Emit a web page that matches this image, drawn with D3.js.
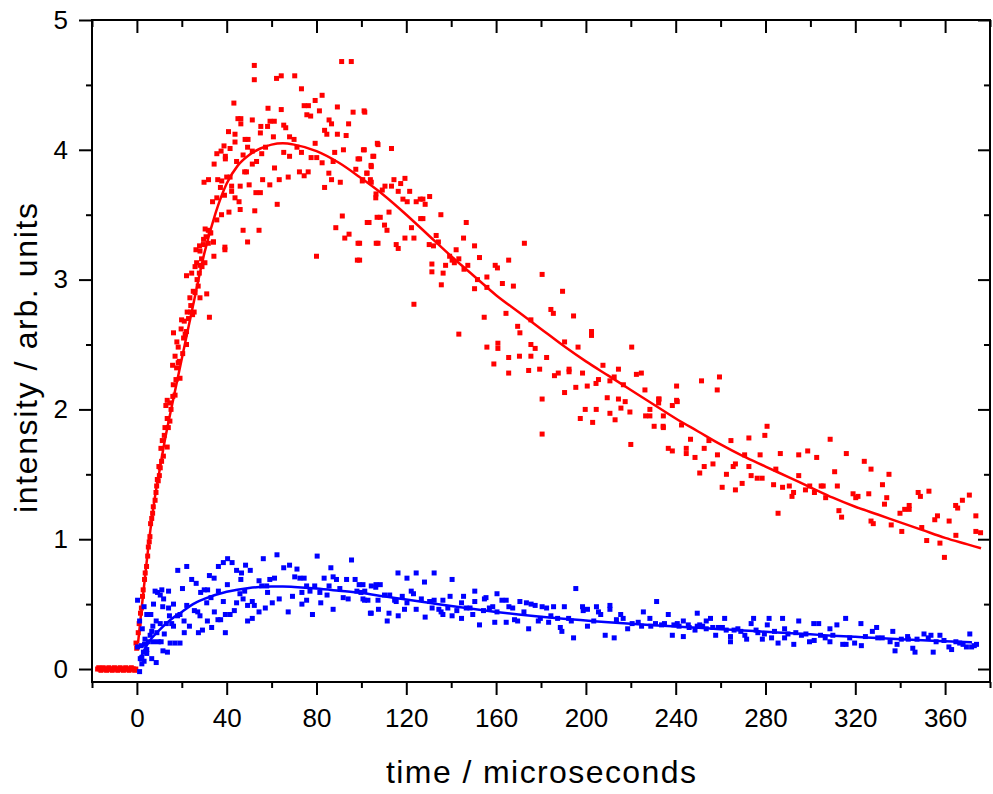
<!DOCTYPE html>
<html>
<head>
<meta charset="utf-8">
<script src="https://cdn.jsdelivr.net/npm/d3@7"></script>
<style>
  body { margin: 0; background: #fff; }
  svg { display: block; font-family: "Liberation Sans", Arial, sans-serif; }
</style>
</head>
<body>
<svg id="chart" width="993" height="794"></svg>
<script>
// values: [time (us), intensity]
const redPreTrigger = [[-17.5,0.0],[-17,0.01],[-16.5,0.0],[-16,-0.01],[-15.5,0.0],[-15,0.01],[-14.5,0.0],[-14,0.0],[-13.5,-0.01],[-13,0.0],[-12.5,0.01],[-12,0.0],[-11.5,0.0],[-11,-0.01],[-10.5,0.0],[-10,0.01],[-9.5,0.0],[-9,0.0],[-8.5,-0.01],[-8,0.0],[-7.5,0.01],[-7,0.0],[-6.5,0.0],[-6,-0.01],[-5.5,0.0],[-5,0.01],[-4.5,0.0],[-4,0.0],[-3.5,-0.01],[-3,0.0],[-2.5,0.01],[-2,0.0],[-1.5,0.0],[-1,-0.01],[-0.5,0.0]];

const redRise = [[-0.4,0.2],[-0.1,0.16],[0.6,0.28],[1.0,0.35],[1.6,0.43],[2.0,0.47],[2.5,0.56],[2.8,0.61],[3.4,0.69],[3.7,0.74],[4.3,0.79],[4.8,0.87],[5.1,0.94],[5.5,0.98],[5.8,1.02],[6.1,1.12],[6.6,1.16],[7.0,1.2],[7.3,1.25],[8.1,1.3],[8.5,1.36],[8.8,1.41],[9.1,1.46],[9.5,1.45],[10.0,1.49],[9.8,1.56],[10.4,1.55],[11,1.6],[11.8,1.64],[10.7,1.7],[13.5,1.71],[11.3,1.76],[12.2,1.8],[12.5,1.86],[14.0,1.86],[14.7,1.91],[13.5,1.93],[15.2,2.0],[13.5,2.07],[12.9,2.03],[14.7,2.05],[16,2.1],[16.2,2.19],[17.4,2.23],[17.7,2.32],[19.2,2.24],[17.0,2.11],[18.4,2.36],[15.9,2.34],[17.0,2.41],[18.9,2.37],[18.4,2.48],[20.4,2.43],[22.1,2.5],[16.3,2.59],[17.8,2.52],[19.7,2.62],[20.8,2.55],[21.5,2.58],[22.1,2.6],[21.1,2.68],[19.9,2.69],[23,2.7],[22.4,2.75],[23.9,2.75],[24,2.8],[25.5,2.75],[24.8,2.73],[23.6,2.86],[25.9,2.9],[27.3,2.95],[25.1,2.91],[26.8,3.0],[22.1,3.03],[24.4,3.05],[27.8,3.05],[29,3.1],[28.1,2.86],[31.1,2.89],[32.3,2.71],[25.9,3.1],[26.6,3.13],[28.1,3.11],[30.3,3.13],[28.8,3.16],[26.3,3.23],[28.1,3.22],[29.6,3.27],[31.8,3.28],[30.8,3.33],[34.1,3.29],[32.9,3.36],[31.8,3.38],[34.3,3.18],[39.2,3.23]];

const redPeak = [[52.3,4.65],[52.3,4.54],[62.2,4.55],[64.3,4.57],[70.3,4.57],[73.3,4.47],[82.5,4.42],[79.4,4.38],[91.2,4.68],[95.5,4.68],[89.3,4.33],[101.2,4.3],[96.3,4.29],[107.1,4.05],[43.2,4.36],[45,4.24],[46.3,4.24],[46.3,4.2],[51.4,4.23],[58.4,4.32],[64.3,4.31],[74.5,4.34],[76.4,4.34],[77.4,4.26],[75.7,4.27],[81.3,4.3],[85.6,4.23],[86.7,4.2],[94.3,4.2],[59.3,4.22],[61.2,4.22],[58.2,4.18],[55.2,4.18],[65.4,4.19],[66.3,4.17],[40.8,4.14],[43.7,4.12],[55,4.13],[60.8,4.1],[68,4.1],[70,4.08],[83.6,4.15],[84.6,4.12],[89.3,4.12],[93.2,4.11],[79.4,4.05],[43.7,4.06],[38.8,4.03],[37.5,3.99],[35.6,3.97],[41.5,4.01],[48.2,4.08],[49.5,4.08],[49.3,4.02],[51.4,3.99],[47.3,3.96],[55.6,3.97],[57.3,4.02],[65.4,3.98],[68,3.95],[71.3,4.02],[73.3,3.98],[77.6,3.94],[80.1,3.94],[88.1,3.98],[92,4.0],[100.9,4.0],[105.1,3.95],[34.4,3.89],[39.4,3.95],[39.4,3.93],[44.4,3.91],[51.4,3.89],[53.3,3.91],[61.3,3.86],[82.5,3.9],[87.4,3.91],[98.5,3.93],[104.3,3.88],[48.8,3.83],[48,3.83],[72.4,3.83],[76.3,3.83],[74.5,3.8],[85.5,3.82],[97.5,3.85],[102.4,3.82],[86.7,3.77],[90.6,3.75],[100.6,3.77],[104,3.77],[56,3.77],[59.2,3.73],[63.4,3.77],[67.4,3.79],[29.9,3.75],[31.9,3.77],[36,3.77],[37.8,3.76],[40,3.79],[41.5,3.79],[42.2,3.72],[42.2,3.68],[46,3.72],[50,3.73],[37.2,3.71],[53,3.67],[55,3.67],[83.6,3.71],[106.5,3.66],[43.7,3.63],[35.6,3.63],[33.7,3.6],[45.5,3.6],[39,3.65],[41,3.52],[37.7,3.5],[46,3.54],[52.5,3.53],[62.5,3.58],[30.4,3.39],[32.6,3.36],[29.7,3.31],[27.9,3.26],[34.1,3.29],[35.6,3.46],[47.3,3.38],[49.3,3.29],[54.4,3.38],[39.2,3.25],[91.5,3.49],[88.6,3.4],[92.6,3.32],[94.5,3.35],[98.5,3.28],[102.6,3.44],[106.6,3.28],[107,3.48],[80,3.18],[98.2,3.15]];

const redDecay = [[101.5,4.29],[101.3,4.0],[107.4,4.04],[113.4,4.01],[99.2,3.93],[105.5,3.95],[104.4,3.87],[102.5,3.82],[100.4,3.76],[104.4,3.75],[106.4,3.63],[109.3,3.69],[110.5,3.72],[113.4,3.72],[114.5,3.77],[117.5,3.74],[119.4,3.78],[116.4,3.68],[118.5,3.62],[120.4,3.6],[121.5,3.68],[124.4,3.6],[126.2,3.62],[127.4,3.62],[128.4,3.58],[130.4,3.64],[103.4,3.44],[108.4,3.48],[112.3,3.52],[110.3,3.42],[111.4,3.38],[99.2,3.28],[99.2,3.15],[107.4,3.28],[115.5,3.27],[116.4,3.24],[119.4,3.32],[123.4,3.32],[122.3,3.4],[126.4,3.47],[127.4,3.47],[135.4,3.5],[133.3,3.34],[134.3,3.29],[130.2,3.27],[132.1,3.26],[123.4,2.81],[131.4,3.12],[131.4,3.06],[136.4,3.05],[135.6,2.96],[137.5,3.11],[139.3,3.18],[140.4,3.15],[141.4,3.13],[142.2,3.23],[143.4,3.16],[145.5,3.32],[146.7,3.44],[147.4,3.11],[145.7,3.08],[150.4,3.26],[152.6,3.17],[151.7,3.0],[155.9,3.02],[150.4,2.93],[155.9,2.94],[143.4,2.58],[154.7,2.71],[159.6,3.11],[160.6,3.09],[162.8,2.97],[165.6,3.15],[167.7,2.95],[172.6,3.28],[164.4,2.74],[169.6,2.64],[170.6,2.59],[175.5,2.69],[155.9,2.48],[160.8,2.51],[160.8,2.47],[159,2.35],[165.6,2.4],[165.6,2.28],[170.4,2.41],[175.5,2.5],[175.5,2.41],[177.4,2.47],[174.5,2.3],[179.4,2.31],[180.5,3.04],[180.5,2.08],[180.5,1.81],[182.5,2.4],[184.4,2.77],[185.5,2.74],[186,2.26],[187.7,2.28],[189.6,2.91],[190.5,2.13],[190.5,2.52],[192.5,2.31],[192.5,2.29],[194.5,2.72],[195.5,2.17],[196.5,2.48],[197.5,1.93],[199.7,2.0],[198.5,2.28],[200.6,2.18],[202.5,2.6],[202.5,2.57],[203,1.9],[204.5,2.2],[205.6,2.23],[204.6,2.0],[207.6,2.34],[209.5,2.09],[210.7,1.97],[210.7,2.22],[212.6,2.25],[213,1.92],[214.5,2.31],[214.5,2.08],[215.6,2.01],[217.5,2.06],[219.6,1.98],[220,1.73],[220.4,2.48],[216.7,2.19],[222.5,2.27],[224.7,2.28],[226.3,2.15],[226.6,1.95],[228.5,1.95],[230.4,1.87],[234.4,1.87],[232.4,2.08],[232.4,2.05],[228.5,2.0],[238.5,2.03],[240.4,2.18],[240.4,2.07]];

const redTail = [[232.6,2.08],[234.5,1.95],[234.5,1.86],[236.7,1.7],[238.5,1.68],[240.7,2.06],[242.6,1.88],[244.7,1.7],[244.7,1.66],[246.6,1.77],[248.6,1.63],[251.5,2.22],[250.7,1.51],[252.7,1.7],[252.7,1.56],[254.8,1.76],[256.6,1.58],[258.5,2.15],[259.5,2.25],[258.6,1.65],[260.7,1.4],[262.6,1.5],[264.6,1.76],[265.6,1.56],[266.6,1.58],[266.6,1.38],[269.6,1.43],[270.7,1.65],[272.6,1.78],[272.6,1.56],[273.6,1.49],[276.3,1.47],[278.5,1.47],[277.6,1.65],[279.7,1.8],[280.7,1.87],[283.6,1.42],[284.6,1.54],[285.6,1.2],[286.6,1.66],[287.6,1.4],[290.6,1.41],[291.8,1.33],[292.5,1.36],[294.8,1.49],[294.8,1.65],[297.8,1.38],[299.7,1.41],[298.8,1.68],[301.8,1.36],[302.8,1.63],[304.8,1.41],[305.7,1.41],[306.8,1.32],[308.8,1.77],[310.8,1.52],[312,1.41],[312.7,1.22],[313.9,1.17],[316,1.66],[319,1.35],[320.2,1.32],[321.2,1.33],[324,1.6],[326,1.35],[327,1.54],[327,1.14],[328,1.12],[332.1,1.42],[333,1.27],[334,1.32],[335,1.5],[336,1.11],[339.9,1.2],[342,1.23],[344,1.26],[344,1.23],[340.7,1.06],[348,1.36],[349,1.33],[349.6,1.09],[351.8,0.99],[352.8,1.37],[355.4,1.15],[356.6,1.18],[357.7,0.97],[359.7,0.86],[361.8,1.14],[364.7,1.26],[365.6,1.24],[367.7,1.3],[370.8,1.34],[364.8,1.03],[373.7,1.18],[373.7,1.06],[375.8,1.05]];

const blueRise = [[0.3,0.53],[1.2,-0.02],[1.5,0.08],[2.2,0.04],[3.2,0.06],[1.2,0.37],[2.4,0.31],[3.2,0.48],[4.4,0.42],[6.2,0.42],[6.6,0.29],[7.4,0.5],[7.1,0.33],[8.1,0.6],[9.2,0.59],[11.1,0.61],[14.1,0.6],[10.4,0.57],[11.9,0.54],[11.5,0.48],[14.1,0.47],[16.3,0.5],[14.5,0.41],[18.1,0.41],[10.4,0.35],[13.1,0.35],[8.6,0.37],[5.9,0.26],[8.9,0.28],[12.2,0.27],[3.6,0.23],[5.1,0.21],[7.4,0.21],[9.6,0.21],[10.8,0.21],[11.6,0.14],[13.6,0.13],[4.4,0.12],[6.6,0.08],[8.6,0.05],[2.9,0.13],[2.2,0.09],[1.9,0.18],[3.4,0.19],[0.3,0.17],[4.4,0.15],[14.8,0.2],[17,0.2],[19.2,0.2],[18.2,0.76],[22.2,0.79],[20.3,0.62],[16.3,0.33],[15.5,0.35],[19.2,0.42],[21,0.37],[21.1,0.28],[23.4,0.33],[22.2,0.49],[24.4,0.69],[26.4,0.66],[27.4,0.28],[29.2,0.3],[25.6,0.45],[27.1,0.44],[28.1,0.41],[28.4,0.59],[30,0.61],[31.5,0.61],[32.3,0.72],[34.4,0.7],[31.1,0.51],[33,0.55],[31.4,0.37],[33.3,0.32],[34.5,0.44],[36.1,0.38],[37.3,0.38],[36.3,0.79],[38.5,0.82],[40.4,0.85],[42.4,0.82],[39.4,0.28],[38.5,0.52],[40.3,0.65],[36.3,0.6],[39.4,0.42],[41.5,0.42],[43.4,0.45],[44.4,0.76],[46.6,0.74],[48.4,0.8],[50.5,0.76],[46.3,0.69],[44.4,0.51],[47.3,0.54],[49.3,0.49],[51.4,0.52],[52.3,0.49],[45.9,0.58],[48,0.6],[49.3,0.37],[51.4,0.39],[54.4,0.68],[56.3,0.85],[58.2,0.59],[54.4,0.44],[57.2,0.47],[60.3,0.51],[59.2,0.69],[61.3,0.7],[62.4,0.88],[63.4,0.54],[55.6,0.64],[57.8,0.64],[65.4,0.78],[68,0.8],[71.3,0.77],[67.4,0.44],[69.3,0.56],[70.3,0.71],[72.6,0.7],[74.5,0.7],[73.5,0.59],[75.6,0.64],[77.1,0.6],[73.5,0.5],[75.6,0.53],[78.2,0.42],[80.3,0.87],[79.2,0.64],[81.5,0.59],[83.4,0.7],[81.9,0.51],[84.7,0.57],[85.6,0.64],[87.4,0.71],[88.9,0.69],[86.4,0.78],[87.4,0.46],[90.4,0.62],[93.4,0.69],[95.6,0.84],[91.9,0.55],[94.1,0.54],[97.2,0.69],[99,0.65],[100.7,0.65],[98,0.6],[99.8,0.59],[101.4,0.53],[104,0.43],[106.5,0.65],[107.6,0.46]];

const blueDecay = [[101.5,0.6],[100.7,0.54],[102.9,0.53],[104.4,0.64],[106.4,0.63],[108.4,0.65],[104.4,0.43],[107.4,0.53],[110.3,0.57],[112.6,0.57],[111.5,0.37],[112.3,0.43],[114.8,0.53],[115.5,0.52],[116.3,0.74],[116.4,0.41],[118.2,0.56],[119.2,0.46],[120.3,0.7],[120.3,0.51],[122.2,0.6],[123.2,0.58],[124.4,0.74],[124.4,0.46],[126.7,0.54],[128.1,0.67],[128.4,0.4],[130.4,0.52],[131.5,0.47],[132.4,0.74],[132.4,0.53],[134.5,0.46],[135.5,0.44],[136.3,0.42],[136.3,0.53],[138.5,0.47],[139.5,0.56],[140.4,0.69],[140.4,0.41],[142.5,0.45],[144.6,0.39],[144.6,0.51],[145.5,0.56],[146.7,0.47],[148.4,0.47],[149.6,0.42],[150.5,0.6],[150.5,0.52],[152.6,0.34],[154.4,0.45],[154.8,0.54],[155.5,0.55],[157,0.47],[158.5,0.48],[159.4,0.36],[160.4,0.58],[160.4,0.44],[162.6,0.53],[164.5,0.53],[164.5,0.36],[165.7,0.48],[167.4,0.47],[168.2,0.38],[169.6,0.37],[170.6,0.52],[172.4,0.44],[173.5,0.51],[175.6,0.5],[177.4,0.49],[174.5,0.31],[178.8,0.37],[179.7,0.39],[180.5,0.48],[182.5,0.47],[183.4,0.36],[184.4,0.41],[185.6,0.48],[187.4,0.39],[188.6,0.32],[189.3,0.29],[190.4,0.48],[192.3,0.39],[193.5,0.37],[194.5,0.24],[195.5,0.62],[198.5,0.48],[198.8,0.45],[200.7,0.46],[200.7,0.33],[203.5,0.37],[204.7,0.48],[205.6,0.44],[206.6,0.42],[208.6,0.26],[210.7,0.49],[210.7,0.46],[212.6,0.24],[213.6,0.38],[215.5,0.42],[216.6,0.39],[218.6,0.31],[220.6,0.35],[223.3,0.36],[224.8,0.33],[225.6,0.44],[228.5,0.39],[228.9,0.33],[231.5,0.52],[231,0.35],[233.7,0.34],[235,0.35],[236.7,0.42],[238.5,0.26],[239.2,0.34],[240.7,0.35],[241.5,0.33],[243.4,0.37],[243.4,0.25],[245.6,0.34],[246,0.32],[248.6,0.3],[249.6,0.43],[249.6,0.33]];

const blueTail = [[250.7,0.34],[252,0.33],[253.6,0.37],[253.6,0.31],[255.5,0.39],[256.5,0.32],[257.8,0.26],[259,0.32],[260.8,0.32],[261.8,0.39],[262.5,0.3],[264.4,0.25],[264.4,0.21],[266,0.3],[267.7,0.31],[269,0.29],[270.8,0.26],[271.6,0.23],[273.6,0.35],[274.7,0.39],[275.8,0.3],[276.6,0.28],[278.6,0.23],[279.5,0.27],[280.8,0.34],[281.6,0.39],[282.7,0.24],[284,0.29],[285.6,0.2],[287.6,0.39],[288.5,0.31],[288.5,0.24],[290,0.27],[292.6,0.19],[293.5,0.28],[294.8,0.37],[296,0.26],[298,0.27],[299.6,0.21],[301.5,0.35],[301.7,0.22],[303.7,0.35],[304.5,0.26],[306.6,0.24],[308.7,0.31],[308.7,0.21],[310,0.26],[311.8,0.34],[314.4,0.19],[315.7,0.39],[315.9,0.19],[317.5,0.24],[319.7,0.2],[322.5,0.35],[322.7,0.18],[324.5,0.25],[327.6,0.29],[329.5,0.32],[330,0.24],[332,0.24],[335.5,0.21],[336.7,0.29],[337.7,0.14],[338.6,0.19],[340.5,0.23],[343.3,0.25],[343.6,0.23],[345.6,0.16],[346.6,0.13],[347.5,0.23],[350.6,0.27],[352.5,0.24],[353.7,0.26],[354.7,0.13],[356,0.21],[357.7,0.26],[359.5,0.22],[361.7,0.17],[362.9,0.15],[364.8,0.21],[366.5,0.2],[368,0.19],[369.5,0.17],[371,0.27],[371.8,0.17],[373,0.18],[374,0.19]];

// fitted curves, read as points along the drawn lines
const redFit = [[0.5,0.2],[2,0.45],[4,0.77],[6,1.07],[8,1.32],[10,1.52],[12,1.72],[15,1.98],[20,2.39],[25,2.8],[30,3.2],[35,3.51],[40,3.74],[45,3.88],[50,3.96],[55,4.01],[60,4.04],[65,4.05],[70,4.04],[80,3.99],[90,3.9],[100,3.78],[110,3.65],[120,3.5],[130,3.34],[140,3.18],[150,3.03],[160,2.88],[170,2.75],[180,2.62],[190,2.49],[200,2.37],[210,2.26],[220,2.15],[230,2.04],[240,1.93],[250,1.83],[260,1.73],[270,1.64],[280,1.56],[290,1.48],[300,1.4],[310,1.32],[320,1.25],[330,1.19],[340,1.13],[350,1.07],[360,1.01],[370,0.96],[376,0.93]];

const blueFit = [[1,0.06],[2,0.1],[5,0.2],[10,0.3],[15,0.38],[20,0.44],[25,0.5],[30,0.54],[40,0.595],[50,0.625],[60,0.635],[65,0.636],[70,0.632],[80,0.62],[90,0.603],[100,0.585],[110,0.56],[120,0.535],[130,0.51],[140,0.485],[150,0.462],[160,0.44],[170,0.42],[180,0.403],[190,0.388],[200,0.374],[210,0.36],[220,0.348],[230,0.337],[240,0.327],[250,0.317],[260,0.307],[270,0.297],[280,0.287],[290,0.277],[300,0.267],[310,0.257],[320,0.248],[330,0.239],[340,0.23],[350,0.222],[360,0.214],[372,0.205]];

const xMajor = [0, 40, 80, 120, 160, 200, 240, 280, 320, 360];
const xMinor = [-20, 20, 60, 100, 140, 180, 220, 260, 300, 340, 380];
const yMajor = [0, 1, 2, 3, 4, 5];
const yMinor = [0.5, 1.5, 2.5, 3.5, 4.5];

const width = 993, height = 794;
const marginLeft = 92, marginRight = 990, marginTop = 20, marginBottom = 682;

const svg = d3.select("#chart");

const x = d3.scaleLinear().domain([-20, 380]).range([marginLeft, marginRight]);
const y = d3.scaleLinear().domain([-0.1, 5]).range([marginBottom, marginTop]);

// axes: outward ticks at bottom/left, inward ticks at top/right
function styleAxis(g) {
  g.select(".domain").remove();
  g.selectAll(".tick line").attr("stroke", "#000").attr("stroke-width", 2);
  g.selectAll(".tick text").attr("fill", "#000").attr("font-size", 26)
    .attr("font-family", "'Liberation Sans', Arial, sans-serif");
}

svg.append("g").attr("transform", `translate(0,${marginBottom})`)
  .call(d3.axisBottom(x).tickValues(xMajor).tickSize(13).tickPadding(14).tickFormat(d3.format("d")))
  .call(styleAxis);
svg.append("g").attr("transform", `translate(0,${marginBottom})`)
  .call(d3.axisBottom(x).tickValues(xMinor).tickSize(6).tickFormat(""))
  .call(styleAxis);
svg.append("g").attr("transform", `translate(0,${marginTop})`)
  .call(d3.axisTop(x).tickValues(xMajor).tickSize(-13).tickFormat(""))
  .call(styleAxis);
svg.append("g").attr("transform", `translate(0,${marginTop})`)
  .call(d3.axisTop(x).tickValues(xMinor).tickSize(-7).tickFormat(""))
  .call(styleAxis);

svg.append("g").attr("transform", `translate(${marginLeft},0)`)
  .call(d3.axisLeft(y).tickValues(yMajor).tickSize(13).tickPadding(11).tickFormat(d3.format("d")))
  .call(styleAxis);
svg.append("g").attr("transform", `translate(${marginLeft},0)`)
  .call(d3.axisLeft(y).tickValues(yMinor).tickSize(6).tickFormat(""))
  .call(styleAxis);
svg.append("g").attr("transform", `translate(${marginRight},0)`)
  .call(d3.axisRight(y).tickValues(yMajor).tickSize(-12).tickFormat(""))
  .call(styleAxis);
svg.append("g").attr("transform", `translate(${marginRight},0)`)
  .call(d3.axisRight(y).tickValues(yMinor).tickSize(-6).tickFormat(""))
  .call(styleAxis);

// frame
svg.append("rect")
  .attr("x", marginLeft).attr("y", marginTop)
  .attr("width", marginRight - marginLeft).attr("height", marginBottom - marginTop)
  .attr("fill", "none").attr("stroke", "#000").attr("stroke-width", 2);

const plot = svg.append("g");
const size = 5;

function drawPoints(data, color) {
  plot.append("g")
    .selectAll("rect")
    .data(data)
    .enter()
    .append("rect")
      .attr("x", d => x(d[0]) - size / 2)
      .attr("y", d => y(d[1]) - size / 2)
      .attr("width", size)
      .attr("height", size)
      .attr("fill", color);
}

function drawFit(data, color) {
  plot.append("path")
    .datum(data)
    .attr("fill", "none")
    .attr("stroke", color)
    .attr("stroke-width", 2.5)
    .attr("d", d3.line().curve(d3.curveMonotoneX)
      .x(d => x(d[0]))
      .y(d => y(d[1])));
}

drawPoints(redPreTrigger.concat(redRise, redPeak, redDecay, redTail), "#ff0000");
drawFit(redFit, "#ff0000");
drawPoints(blueRise.concat(blueDecay, blueTail), "#0000ff");
drawFit(blueFit, "#0000ff");

// axis titles
svg.append("text")
  .attr("x", (marginLeft + marginRight) / 2)
  .attr("y", 783)
  .attr("text-anchor", "middle")
  .attr("font-size", 32)
  .attr("textLength", 310)
  .attr("lengthAdjust", "spacing")
  .text("time / microseconds");

svg.append("text")
  .attr("transform", "translate(37,358) rotate(-90)")
  .attr("text-anchor", "middle")
  .attr("font-size", 32)
  .attr("textLength", 310)
  .attr("lengthAdjust", "spacing")
  .text("intensity / arb. units");
</script>
</body>
</html>
